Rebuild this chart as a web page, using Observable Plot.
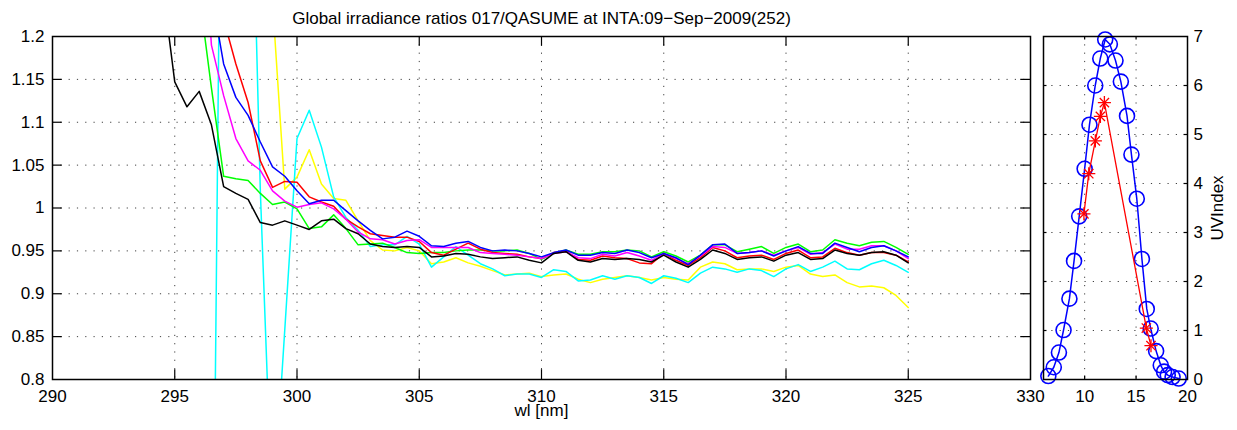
<!DOCTYPE html>
<html>
<head>
<meta charset="utf-8">
<script src="https://cdn.jsdelivr.net/npm/d3@7"></script>
<script src="https://cdn.jsdelivr.net/npm/@observablehq/plot@0.6"></script>
<style>
  html, body { margin: 0; padding: 0; background: #fff; }
  #wrap { position: relative; width: 1237px; height: 430px; overflow: hidden; background: #fff; }
  #wrap svg { position: absolute; top: 0; overflow: visible; }
</style>
</head>
<body>
<div id="wrap"></div>
<script>
// ---------------- DATA ----------------
const titleText = "Global irradiance ratios 017/QASUME at INTA:09\u2212Sep\u22122009(252)";
const xLabelText = "wl [nm]";
const yRightLabelText = "UVIndex";

// wavelengths (nm)
const wavelengths = [294, 294.5,
  295, 295.5, 296, 296.5, 297, 297.5, 298, 298.5, 299, 299.5,
  300, 300.5, 301, 301.5, 302, 302.5, 303, 303.5, 304, 304.5,
  305, 305.5, 306, 306.5, 307, 307.5, 308, 308.5, 309, 309.5,
  310, 310.5, 311, 311.5, 312, 312.5, 313, 313.5, 314, 314.5,
  315, 315.5, 316, 316.5, 317, 317.5, 318, 318.5, 319, 319.5,
  320, 320.5, 321, 321.5, 322, 322.5, 323, 323.5, 324, 324.5,
  325];

const ratioBlack = [1.40, 1.26,
  1.147, 1.118, 1.136, 1.097, 1.025, 1.017, 1.010, 0.983, 0.980, 0.985,
  0.980, 0.975, 0.985, 0.987, 0.976, 0.970, 0.958, 0.955, 0.954, 0.955,
  0.954, 0.943, 0.944, 0.947, 0.946, 0.943, 0.941, 0.942, 0.943, 0.939,
  0.936, 0.947, 0.949, 0.939, 0.937, 0.941, 0.940, 0.941, 0.940, 0.937,
  0.945, 0.937, 0.931, 0.940, 0.951, 0.947, 0.940, 0.942, 0.943, 0.938,
  0.945, 0.948, 0.940, 0.941, 0.951, 0.947, 0.945, 0.948, 0.949, 0.945,
  0.936];

const ratioGreen = [1.60, 1.50,
  1.45, 1.35, 1.25, 1.14, 1.037, 1.034, 1.032, 1.017, 1.004, 1.007,
  0.999, 0.976, 0.978, 0.992, 0.976, 0.957, 0.958, 0.959, 0.954, 0.948,
  0.947, 0.948, 0.948, 0.950, 0.951, 0.951, 0.950, 0.950, 0.951, 0.947,
  0.940, 0.947, 0.951, 0.946, 0.946, 0.949, 0.949, 0.951, 0.950, 0.943,
  0.949, 0.944, 0.937, 0.945, 0.957, 0.957, 0.949, 0.952, 0.955, 0.947,
  0.954, 0.958, 0.949, 0.951, 0.963, 0.959, 0.956, 0.960, 0.961, 0.954,
  0.946];

const ratioRed = [null, null,
  null, null, 1.60, 1.40, 1.22, 1.168, 1.123, 1.055, 1.024, 1.031,
  1.030, 1.013, 1.007, 1.002, 0.987, 0.978, 0.970, 0.968, 0.966, 0.966,
  0.961, 0.948, 0.945, 0.952, 0.959, 0.952, 0.948, 0.947, 0.946, 0.943,
  0.941, 0.948, 0.950, 0.940, 0.939, 0.944, 0.942, 0.941, 0.936, 0.935,
  0.947, 0.939, 0.933, 0.942, 0.954, 0.950, 0.942, 0.944, 0.945, 0.940,
  0.947, 0.951, 0.942, 0.943, 0.953, 0.948, 0.945, 0.948, 0.948, 0.945,
  0.937];

const ratioBlue = [null, null,
  null, null, 1.50, 1.25, 1.168, 1.129, 1.108, 1.077, 1.048, 1.037,
  1.020, 1.005, 1.009, 1.009, 0.997, 0.985, 0.974, 0.964, 0.966, 0.973,
  0.967, 0.956, 0.955, 0.959, 0.961, 0.954, 0.950, 0.951, 0.950, 0.947,
  0.943, 0.948, 0.951, 0.945, 0.945, 0.948, 0.947, 0.951, 0.948, 0.942,
  0.947, 0.942, 0.934, 0.945, 0.957, 0.958, 0.947, 0.948, 0.950, 0.944,
  0.950, 0.955, 0.947, 0.947, 0.959, 0.954, 0.949, 0.954, 0.956, 0.950,
  0.943];

const ratioMagenta = [null, null,
  null, null, 1.40, 1.19, 1.131, 1.081, 1.055, 1.044, 1.020, 1.008,
  1.001, 1.004, 1.006, 0.999, 0.987, 0.972, 0.964, 0.963, 0.958, 0.962,
  0.963, 0.954, 0.954, 0.954, 0.954, 0.948, 0.947, 0.946, 0.945, 0.943,
  0.941, 0.947, 0.949, 0.942, 0.941, 0.946, 0.944, 0.948, 0.944, 0.939,
  0.947, 0.941, 0.935, 0.944, 0.955, 0.954, 0.947, 0.948, 0.950, 0.945,
  0.950, 0.954, 0.946, 0.948, 0.958, 0.952, 0.952, 0.956, 0.956, 0.950,
  0.941];

const ratioCyan = [null, null,
  0.25, 0.20, 0.15, 0.34, 1.77, 1.90, 1.58, 1.02, 0.635, 0.858,
  1.081, 1.114, 1.071, 1.013, 0.989, 0.974, 0.955, 0.957, 0.957, 0.967,
  0.958, 0.931, 0.943, 0.955, 0.945, 0.935, 0.929, 0.921, 0.923, 0.923,
  0.919, 0.928, 0.926, 0.915, 0.916, 0.921, 0.917, 0.921, 0.919, 0.912,
  0.921, 0.918, 0.913, 0.924, 0.931, 0.929, 0.925, 0.929, 0.927, 0.920,
  0.929, 0.934, 0.926, 0.931, 0.938, 0.929, 0.928, 0.935, 0.939, 0.933,
  0.925];

const ratioYellow = [null, null,
  null, null, null, null, 2.0, 1.9, 1.7, 1.5, 1.24, 1.022,
  1.036, 1.068, 1.028, 1.011, 1.009, 0.985, 0.962, 0.951, 0.950, 0.954,
  0.950, 0.935, 0.937, 0.942, 0.936, 0.932, 0.927, 0.922, 0.923, 0.924,
  0.920, 0.922, 0.923, 0.917, 0.913, 0.917, 0.919, 0.921, 0.919, 0.916,
  0.919, 0.917, 0.916, 0.931, 0.937, 0.935, 0.928, 0.929, 0.929, 0.926,
  0.931, 0.933, 0.923, 0.920, 0.922, 0.913, 0.908, 0.909, 0.907, 0.898,
  0.884];

// series keys, in drawing order (first drawn at the bottom)
const seriesNames = ["series 7", "series 6", "series 2", "series 3", "series 5", "series 4", "series 1"];
const seriesValues = [ratioYellow, ratioCyan, ratioGreen, ratioRed, ratioMagenta, ratioBlue, ratioBlack];

// left panel ticks
const xTicksLeft = [290, 295, 300, 305, 310, 315, 320, 325, 330];
const yTicksLeft = [0.8, 0.85, 0.9, 0.95, 1, 1.05, 1.1, 1.15, 1.2];

// right panel: UV index vs hour
const uvHours = [6.47, 7.0, 7.5, 7.95, 8.52, 8.97, 9.47, 10.0, 10.47, 11.03, 11.52, 12.0, 12.45,
  13.0, 13.52, 14.12, 14.55, 15.07, 15.57, 16.04, 16.42, 16.95, 17.4, 17.72, 18.08, 18.55, 19.15];
const uvModel = [0.07, 0.25, 0.55, 1.01, 1.65, 2.42, 3.33, 4.30, 5.20, 6.0, 6.55, 6.94, 6.84,
  6.51, 6.08, 5.38, 4.59, 3.69, 2.46, 1.44, 1.04, 0.58, 0.29, 0.16, 0.09, 0.05, 0.02];
const uvMeasHours = [9.93, 10.4, 11.04, 11.53, 11.92, 16.0, 16.45];
const uvMeas = [3.38, 4.2, 4.87, 5.37, 5.65, 1.05, 0.69];

const xTicksRight = [10, 15, 20];
const yTicksRight = [0, 1, 2, 3, 4, 5, 6, 7];

// ---------------- STYLE ----------------
const seriesColors = ["#ffff00", "#00ffff", "#00ff00", "#ff0000", "#ff00ff", "#0000ff", "#000000"];
const font = "'Liberation Sans', Arial, Helvetica, sans-serif";
const gridStyle = {stroke: "#000", strokeOpacity: 0.75, strokeWidth: 1, strokeDasharray: "1.2,7.1"};

// ---------------- BUILD ----------------
const rows = [];
seriesNames.forEach((name, k) => {
  seriesValues[k].forEach((v, i) => {
    if (v != null) rows.push({wl: wavelengths[i], ratio: v, name});
  });
});

const innerX = xTicksLeft.slice(1, -1);
const innerY = yTicksLeft.slice(1, -1);
const tickLenX = 0.4;      // nm
const tickLenY = 0.0114;   // ratio units

const left = Plot.plot({
  width: 1036,
  height: 430,
  marginLeft: 52,
  marginRight: 6,
  marginTop: 36,
  marginBottom: 51,
  style: {fontFamily: font, fontSize: "17px", background: "transparent", overflow: "visible", color: "#000"},
  x: {domain: [290, 330], ticks: xTicksLeft, tickFormat: d => String(d), tickSize: 0, tickPadding: 10, label: null},
  y: {domain: [0.8, 1.2], ticks: yTicksLeft, tickFormat: d => String(+d.toFixed(2)), tickSize: 0, tickPadding: 8, label: null},
  color: {type: "ordinal", domain: seriesNames, range: seriesColors},
  marks: [
    Plot.ruleX(innerX, {x: d => d, ...gridStyle}),
    Plot.ruleY(innerY, {y: d => d, ...gridStyle}),
    Plot.line(rows, {x: "wl", y: "ratio", z: "name", stroke: "name", strokeWidth: 1.5, clip: true}),
    Plot.ruleX(innerX, {x: d => d, y1: 0.8, y2: 0.8 + tickLenY, stroke: "#000", strokeWidth: 1.2}),
    Plot.ruleX(innerX, {x: d => d, y1: 1.2 - tickLenY, y2: 1.2, stroke: "#000", strokeWidth: 1.2}),
    Plot.ruleY(innerY, {y: d => d, x1: 290, x2: 290 + tickLenX, stroke: "#000", strokeWidth: 1.2}),
    Plot.ruleY(innerY, {y: d => d, x1: 330 - tickLenX, x2: 330, stroke: "#000", strokeWidth: 1.2}),
    Plot.frame({stroke: "#000", strokeWidth: 1.5}),
    Plot.text([titleText], {text: d => d, frameAnchor: "top", dy: -18, lineAnchor: "middle", textAnchor: "middle", fontSize: 17}),
    Plot.text([xLabelText], {text: d => d, frameAnchor: "bottom", dy: 31, lineAnchor: "middle", textAnchor: "middle", fontSize: 17})
  ]
});
left.style.left = "0px";

const modelRows = uvHours.map((h, i) => ({hour: h, uv: uvModel[i]}));
const measRows = uvMeasHours.map((h, i) => ({hour: h, uv: uvMeas[i]}));

const right = Plot.plot({
  width: 201,
  height: 430,
  marginLeft: 7,
  marginRight: 50,
  marginTop: 36,
  marginBottom: 51,
  style: {fontFamily: font, fontSize: "17px", background: "transparent", overflow: "visible", color: "#000"},
  x: {domain: [6, 20], ticks: xTicksRight, tickFormat: d => String(d), tickSize: 0, tickPadding: 10, label: null},
  y: {domain: [0, 7], ticks: yTicksRight, tickFormat: d => String(d), axis: "right", tickSize: 0, tickPadding: 6, label: null},
  marks: [
    Plot.ruleX([10, 15], {x: d => d, ...gridStyle}),
    Plot.ruleY([1, 2, 3, 4, 5, 6], {y: d => d, ...gridStyle}),
    Plot.ruleX([10, 15], {x: d => d, y1: 0, y2: 0.07, stroke: "#000", strokeWidth: 1.2}),
    Plot.ruleX([10, 15], {x: d => d, y1: 6.93, y2: 7, stroke: "#000", strokeWidth: 1.2}),
    Plot.ruleY([1, 2, 3, 4, 5, 6], {y: d => d, x1: 6, x2: 6.34, stroke: "#000", strokeWidth: 1.2}),
    Plot.ruleY([1, 2, 3, 4, 5, 6], {y: d => d, x1: 19.66, x2: 20, stroke: "#000", strokeWidth: 1.2}),
    Plot.line(modelRows, {x: "hour", y: "uv", stroke: "#0000ff", strokeWidth: 1.5}),
    Plot.dot(modelRows, {x: "hour", y: "uv", r: 7.5, stroke: "#0000ff", strokeWidth: 1.6, fill: "none"}),
    Plot.line(measRows, {x: "hour", y: "uv", stroke: "#ff0000", strokeWidth: 1.3}),
    Plot.dot(measRows, {x: "hour", y: "uv", r: 4.3, symbol: "plus", stroke: "#ff0000", strokeWidth: 1.3}),
    Plot.dot(measRows, {x: "hour", y: "uv", r: 4.3, symbol: "times", stroke: "#ff0000", strokeWidth: 1.3}),
    Plot.frame({stroke: "#000", strokeWidth: 1.5}),
    Plot.text([yRightLabelText], {text: d => d, frameAnchor: "right", dx: 30, rotate: -90, textAnchor: "middle", lineAnchor: "middle", fontSize: 17})
  ]
});
right.style.left = "1036px";

const wrap = document.getElementById("wrap");
wrap.appendChild(left);
wrap.appendChild(right);
</script>
</body>
</html>
